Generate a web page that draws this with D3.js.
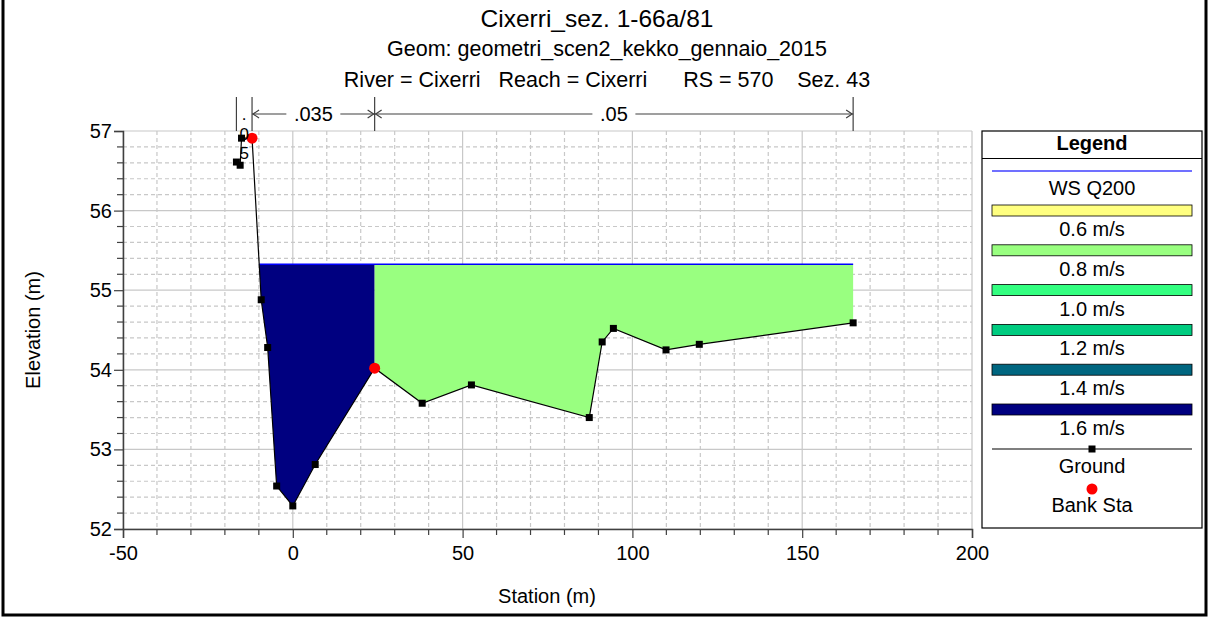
<!DOCTYPE html>
<html>
<head>
<meta charset="utf-8">
<script src="https://cdn.jsdelivr.net/npm/d3@7"></script>
<style>
  body { margin: 0; background: #fff; }
  svg { display: block; font-family: "Liberation Sans", Arial, sans-serif; }
  text { white-space: pre; }
</style>
</head>
<body>
<svg id="chart" width="1209" height="621"></svg>
<script>
// ---- data ----
const groundStation = [-16.6, -15.5, -15.1, -12.0, -9.3, -7.4, -4.75, 0.0, 6.6, 24.1, 38.1, 52.6, 87.3, 91.1, 94.4, 109.9, 119.7, 165.0];
const groundElev    = [56.61, 56.57, 56.91, 56.91, 54.88, 54.28, 52.54, 52.29, 52.81, 54.02, 53.58, 53.81, 53.40, 54.35, 54.52, 54.25, 54.32, 54.59];
const bankStations  = [-12.0, 24.1];
const wsElevation   = 55.325;
const nStations     = [-16.6, -12.0, 24.1, 165.0];
const nLabels       = [".05", ".035", ".05"];
const flowColors    = [null, "#000080", "#99ff80"];   // LOB (dry), Channel 1.6 m/s, ROB 0.8 m/s
const legendLabels  = ["0.6 m/s", "0.8 m/s", "1.0 m/s", "1.2 m/s", "1.4 m/s", "1.6 m/s"];
const legendColors  = ["#ffff80", "#99ff80", "#33ff80", "#00cc80", "#006680", "#000080"];
const xTicks        = [-50, 0, 50, 100, 150, 200];
const yTicks        = [52, 53, 54, 55, 56, 57];
const titleLines    = ["Cixerri_sez. 1-66a/81", "Geom: geometri_scen2_kekko_gennaio_2015", "River = Cixerri   Reach = Cixerri      RS = 570    Sez. 43"];

// ---- layout ----
const svg = d3.select("#chart");
const L = 123, R = 972, T = 131, B = 529;
const x = d3.scaleLinear().domain([-50, 200]).range([L, R]);
const y = d3.scaleLinear().domain([52, 57]).range([B, T]);
const ground = groundStation.map((s, i) => ({s, e: groundElev[i]}));
const FS = 20;

// outer frame
svg.append("path").attr("d", `M3,0 V615 H1206 V0`).attr("fill", "none").attr("stroke", "#000").attr("stroke-width", 3);

// titles
svg.append("text").attr("x", 597).attr("y", 27).attr("text-anchor", "middle").attr("font-size", 24.5).text(titleLines[0]);
svg.append("text").attr("x", 607).attr("y", 56).attr("text-anchor", "middle").attr("font-size", 21.5).text(titleLines[1]);
svg.append("text").attr("x", 607).attr("y", 87).attr("text-anchor", "middle").attr("font-size", 21.5).text(titleLines[2]);

// grid
const grid = svg.append("g");
d3.range(-50, 201, 10).forEach(v => {
  const major = v % 50 === 0;
  grid.append("line").attr("x1", x(v)).attr("x2", x(v)).attr("y1", T).attr("y2", B)
    .attr("stroke", "#c8c8c8").attr("stroke-width", 1.2).attr("stroke-dasharray", major ? null : "4,3");
});
d3.range(0, 26).map(i => 52 + i * 0.2).forEach((v, i) => {
  const major = i % 5 === 0;
  grid.append("line").attr("x1", L).attr("x2", R).attr("y1", y(v)).attr("y2", y(v))
    .attr("stroke", "#c8c8c8").attr("stroke-width", 1.2).attr("stroke-dasharray", major ? null : "4,3");
});

// water-surface crossing of ground
function crossing(a, b) {
  const t = (wsElevation - a.e) / (b.e - a.e);
  return a.s + t * (b.s - a.s);
}
let wsLeft = null;
for (let i = 0; i < ground.length - 1; i++) {
  if (ground[i].e >= wsElevation && ground[i + 1].e < wsElevation) { wsLeft = crossing(ground[i], ground[i + 1]); break; }
}
const wsRight = groundStation[groundStation.length - 1];

const lineGen = d3.line().x(d => x(d.s)).y(d => y(d.e));
function elevAt(s) {
  for (let i = 0; i < ground.length - 1; i++) {
    if (s >= ground[i].s && s <= ground[i + 1].s) {
      const t = (s - ground[i].s) / (ground[i + 1].s - ground[i].s || 1);
      return ground[i].e + t * (ground[i + 1].e - ground[i].e);
    }
  }
  return ground[ground.length - 1].e;
}
// flow-area fills per wet subsection (channel, right overbank)
const wetBounds = [[wsLeft, bankStations[1]], [bankStations[1], wsRight]];
wetBounds.forEach(([lo, hi], k) => {
  const pts = [{s: lo, e: wsElevation}, {s: lo, e: Math.min(wsElevation, elevAt(lo))}];
  ground.forEach(g => { if (g.s > lo && g.s < hi) pts.push({s: g.s, e: Math.min(wsElevation, g.e)}); });
  pts.push({s: hi, e: Math.min(wsElevation, elevAt(hi))});
  pts.push({s: hi, e: wsElevation});
  svg.append("path").attr("d", lineGen(pts) + "Z").attr("fill", flowColors[k + 1]).attr("stroke", "none");
});

// water surface
svg.append("line").attr("x1", x(wsLeft)).attr("x2", x(wsRight)).attr("y1", y(wsElevation)).attr("y2", y(wsElevation))
  .attr("stroke", "#0000ff").attr("stroke-width", 1.5);

// ground line & markers
svg.append("path").attr("d", lineGen(ground)).attr("fill", "none").attr("stroke", "#000").attr("stroke-width", 1.2);
svg.append("g").selectAll("rect").data(ground).join("rect")
  .attr("x", d => x(d.s) - 3.5).attr("y", d => y(d.e) - 3.5).attr("width", 7).attr("height", 7).attr("fill", "#000");

// bank stations
svg.append("g").selectAll("circle").data(bankStations).join("circle")
  .attr("cx", d => x(d)).attr("cy", d => y(elevAt(d))).attr("r", 5.5).attr("fill", "#ff0000");

// axes
const fmt = d => String(d);
const xAxis = d3.axisBottom(x).tickValues(xTicks).tickSize(9).tickFormat(fmt);
const gx = svg.append("g").attr("transform", `translate(0,${B})`).call(xAxis);
gx.select(".domain").attr("stroke", "#404040").attr("stroke-width", 1.5);
gx.selectAll(".tick line").attr("stroke", "#404040").attr("stroke-width", 1.2);
gx.selectAll(".tick text").attr("font-size", FS).attr("font-family", "Liberation Sans, Arial, sans-serif").attr("fill", "#000").attr("y", 31).attr("dy", null);
d3.range(-40, 200, 10).filter(v => v % 50 !== 0).forEach(v => {
  svg.append("line").attr("x1", x(v)).attr("x2", x(v)).attr("y1", B).attr("y2", B + 6).attr("stroke", "#404040").attr("stroke-width", 1.2);
});
const yAxis = d3.axisLeft(y).tickValues(yTicks).tickSize(9).tickFormat(fmt);
const gy = svg.append("g").attr("transform", `translate(${L},0)`).call(yAxis);
gy.select(".domain").attr("stroke", "#404040").attr("stroke-width", 1.5);
gy.selectAll(".tick line").attr("stroke", "#404040").attr("stroke-width", 1.2);
gy.selectAll(".tick text").attr("font-size", FS).attr("font-family", "Liberation Sans, Arial, sans-serif").attr("fill", "#000").attr("x", -11);
d3.range(0, 26).map(i => 52 + i * 0.2).filter((v, i) => i % 5 !== 0).forEach(v => {
  svg.append("line").attr("x1", L - 6).attr("x2", L).attr("y1", y(v)).attr("y2", y(v)).attr("stroke", "#404040").attr("stroke-width", 1.2);
});

// axis titles
svg.append("text").attr("x", 547).attr("y", 603).attr("text-anchor", "middle").attr("font-size", FS).text("Station (m)");
svg.append("text").attr("transform", "translate(40,330) rotate(-90)").attr("text-anchor", "middle").attr("font-size", FS).text("Elevation (m)");

// Manning's n brackets
const nG = svg.append("g");
const nY = 114;
nStations.forEach(s => {
  nG.append("line").attr("x1", x(s)).attr("x2", x(s)).attr("y1", 97).attr("y2", T).attr("stroke", "#404040").attr("stroke-width", 1.2);
});
const stackY = [120, 140, 159];
for (let i = 0; i < nLabels.length; i++) {
  const x1 = x(nStations[i]), x2 = x(nStations[i + 1]);
  const cx = (x1 + x2) / 2;
  if (x2 - x1 < 40) {
    // narrow: stack characters vertically
    nLabels[i].split("").forEach((c, j) => {
      nG.append("text").attr("x", cx).attr("y", stackY[j]).attr("text-anchor", "middle").attr("font-size", 17).text(c);
    });
    continue;
  }
  const tw = nLabels[i].length * 11 + 10;
  nG.append("line").attr("x1", x1).attr("x2", cx - tw / 2).attr("y1", nY).attr("y2", nY).attr("stroke", "#404040").attr("stroke-width", 1.2);
  nG.append("line").attr("x1", cx + tw / 2).attr("x2", x2).attr("y1", nY).attr("y2", nY).attr("stroke", "#404040").attr("stroke-width", 1.2);
  nG.append("path").attr("d", `M${x1 + 7},${nY - 4} L${x1 + 1},${nY} L${x1 + 7},${nY + 4}`).attr("fill", "none").attr("stroke", "#404040").attr("stroke-width", 1.2);
  nG.append("path").attr("d", `M${x2 - 7},${nY - 4} L${x2 - 1},${nY} L${x2 - 7},${nY + 4}`).attr("fill", "none").attr("stroke", "#404040").attr("stroke-width", 1.2);
  nG.append("text").attr("x", cx).attr("y", nY + 7).attr("text-anchor", "middle").attr("font-size", FS).text(nLabels[i]);
}

// legend
const lg = svg.append("g");
const LX = 982, LW = 220, LT = 131, LB = 528, LC = LX + LW / 2;
lg.append("rect").attr("x", LX).attr("y", LT).attr("width", LW).attr("height", LB - LT).attr("fill", "#fff").attr("stroke", "#000").attr("stroke-width", 1.2);
lg.append("line").attr("x1", LX).attr("x2", LX + LW).attr("y1", 158.5).attr("y2", 158.5).attr("stroke", "#000").attr("stroke-width", 1);
lg.append("text").attr("x", LC).attr("y", 150).attr("text-anchor", "middle").attr("font-size", FS).attr("font-weight", "bold").text("Legend");
lg.append("line").attr("x1", 992).attr("x2", 1192).attr("y1", 171).attr("y2", 171).attr("stroke", "#4040ff").attr("stroke-width", 1.5);
lg.append("text").attr("x", LC).attr("y", 195).attr("text-anchor", "middle").attr("font-size", FS).text("WS Q200");
legendLabels.forEach((lab, i) => {
  const yy = 205 + i * 39.8;
  lg.append("rect").attr("x", 992).attr("y", yy).attr("width", 200).attr("height", 11).attr("fill", legendColors[i]).attr("stroke", "#000").attr("stroke-width", 0.8);
  lg.append("text").attr("x", LC).attr("y", yy + 31).attr("text-anchor", "middle").attr("font-size", FS).text(lab);
});
lg.append("line").attr("x1", 992).attr("x2", 1192).attr("y1", 449).attr("y2", 449).attr("stroke", "#000").attr("stroke-width", 1.2);
lg.append("rect").attr("x", LC - 3.5).attr("y", 445.5).attr("width", 7).attr("height", 7).attr("fill", "#000");
lg.append("text").attr("x", LC).attr("y", 473).attr("text-anchor", "middle").attr("font-size", FS).text("Ground");
lg.append("circle").attr("cx", LC).attr("cy", 489).attr("r", 5.5).attr("fill", "#ff0000");
lg.append("text").attr("x", LC).attr("y", 512).attr("text-anchor", "middle").attr("font-size", FS).text("Bank Sta");
</script>
</body>
</html>
